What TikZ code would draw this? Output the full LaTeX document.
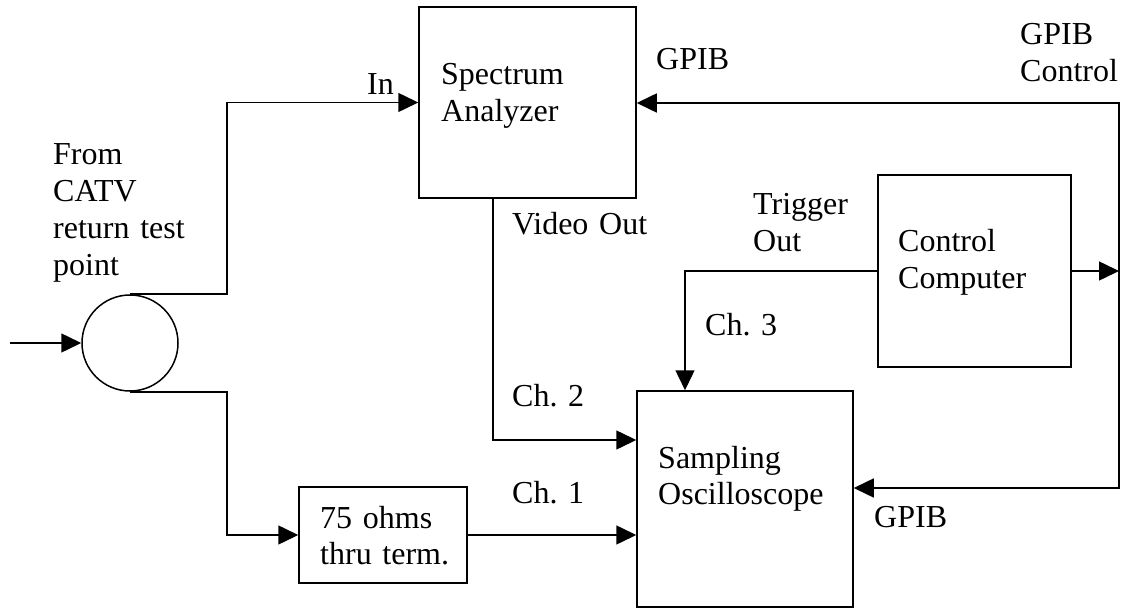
\documentclass[tikz,border=0pt]{standalone}
\usepackage{fontspec}
\setmainfont{Liberation Serif}
\usetikzlibrary{arrows.meta,calc}
\frenchspacing
\begin{document}
\begin{tikzpicture}[x=1pt,y=-1pt,
  every node/.style={font=\fontsize{32}{36.8}\selectfont},
  unit/.style={draw,line width=1.5pt,rectangle,inner sep=0pt},
  txt/.style={inner sep=0pt,anchor=base west,text width=260pt,align=left},
  wire/.style={line width=1.5pt},
  arr/.style={wire,-{Triangle[length=20pt,width=19pt]}},
  biarr/.style={wire,{Triangle[length=20pt,width=19pt]}-{Triangle[length=20pt,width=19pt]}}]
\useasboundingbox (0,0) rectangle (1121,609);

% instruments
\node[unit,minimum width=217pt,minimum height=191pt] (sa) at (527.5,102.5) {};
\node[unit,minimum width=216pt,minimum height=216pt] (osc) at (745,499) {};
\node[unit,minimum width=193pt,minimum height=192pt] (cc) at (974.5,271) {};
\node[unit,minimum width=168pt,minimum height=96pt] (term) at (383,535) {};
\node[draw,line width=1.5pt,circle,minimum size=96pt,inner sep=0pt] (split) at (130,343) {};

% bus and input points
\coordinate (src) at (10,343);
\coordinate (busTop) at (1119,103);
\coordinate (busBot) at (1119,488);

% texts inside the boxes
\node[txt] (saT) at (441,85) {Spectrum\\Analyzer};
\node[txt] (oscT) at (658,468) {Sampling\\Oscilloscope};
\node[txt] (ccT) at (898,252) {Control\\Computer};
\node[txt] (termT) at (320,528) {75 ohms\\thru term.};

% port labels
\node[txt] (fromT) at (53,165) {From\\CATV\\return test\\point};
\node[txt] (inT) at (367,95) {In};
\node[txt] (gpibA) at (656,70) {GPIB};
\node[txt] (gpibC) at (1020,45) {GPIB\\Control};
\node[txt] (vidT) at (512,235) {Video Out};
\node[txt] (trigT) at (753,215) {Trigger\\Out};
\node[txt] (ch3T) at (705,335) {Ch. 3};
\node[txt] (ch2T) at (512,406) {Ch. 2};
\node[txt] (ch1T) at (512,503) {Ch. 1};
\node[txt] (gpibB) at (874,527) {GPIB};

% signal paths
\draw[arr] (src) -- (split.west);
\draw[arr] (split.north) -- ++(97,0) |- (sa.west);
\draw[arr] (split.south) -- ++(97,0) |- (term.west);
\draw[arr] (term.east) -- (term.east -| osc.west);
\draw[arr] ([xshift=-34.5pt]sa.south) |- ([yshift=59pt]osc.west);
\draw[arr] (cc.west) -| ([xshift=-60pt]osc.north);
\draw[arr] (cc.east) -- (cc.east -| busTop);
\draw[biarr] (busTop -| sa.east) -- (busTop) -- (busBot) -- (busBot -| osc.east);
\end{tikzpicture}
\end{document}
